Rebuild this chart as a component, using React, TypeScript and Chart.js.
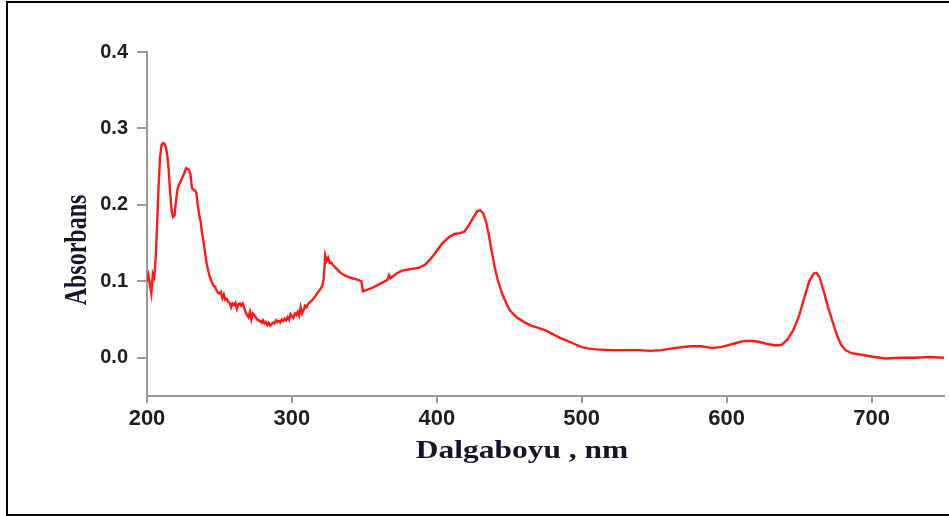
import React, { useEffect, useRef } from "react";
import { Chart, registerables } from "chart.js";

Chart.register(...registerables);

const wavelengths = [
  200, 201, 202, 203, 204, 205, 206, 207, 208, 209, 210, 211, 212, 213, 214, 215, 216, 217, 218, 219,
  220, 221, 222, 223, 224, 225, 226, 227, 228, 229, 230, 231, 232, 233, 234, 235, 236, 237, 238, 239,
  240, 241, 242, 243, 244, 245, 246, 247, 248, 249, 250, 251, 252, 253, 254, 255, 256, 257, 258, 259,
  260, 261, 262, 263, 264, 265, 266, 267, 268, 269, 270, 271, 272, 273, 274, 275, 276, 277, 278, 279,
  280, 281, 282, 283, 284, 285, 286, 287, 288, 289, 290, 291, 292, 293, 294, 295, 296, 297, 298, 299,
  300, 301, 302, 303, 304, 305, 306, 307, 308, 309, 310, 311, 312, 313, 314, 315, 316, 317, 318, 319,
  320, 321, 322, 323, 324, 325, 326, 327, 328, 330, 333, 336, 340, 344, 347, 348, 349, 352, 356, 360,
  364, 366, 367, 368, 372, 376, 382, 388, 392, 396, 400, 404, 408, 412, 416, 419, 422, 425, 428, 430,
  432, 434, 436, 438, 440, 442, 445, 448, 450, 455, 460, 465, 470, 475, 480, 485, 490, 495, 500, 505,
  510, 520, 530, 540, 547, 555, 565, 575, 582, 590, 596, 600, 606, 612, 618, 622, 628, 634, 638, 642,
  646, 650, 654, 657, 660, 662, 664, 667, 670, 673, 676, 679, 682, 686, 690, 696, 702, 710, 720, 730,
  740, 750,
];

const absorbance = [
  0.100, 0.108, 0.095, 0.084, 0.110, 0.105, 0.130, 0.175, 0.225, 0.262, 0.278, 0.281, 0.280, 0.276, 0.265, 0.245, 0.215, 0.192, 0.184, 0.186,
  0.205, 0.220, 0.226, 0.230, 0.234, 0.238, 0.243, 0.248, 0.247, 0.246, 0.240, 0.222, 0.220, 0.219, 0.216, 0.200, 0.188, 0.178, 0.163, 0.152,
  0.138, 0.125, 0.116, 0.108, 0.102, 0.098, 0.094, 0.093, 0.088, 0.085, 0.084, 0.086, 0.078, 0.083, 0.076, 0.077, 0.073, 0.072, 0.066, 0.071,
  0.069, 0.072, 0.064, 0.070, 0.071, 0.068, 0.071, 0.066, 0.060, 0.056, 0.053, 0.060, 0.050, 0.058, 0.056, 0.053, 0.050, 0.049, 0.048, 0.046,
  0.049, 0.045, 0.047, 0.043, 0.046, 0.042, 0.044, 0.046, 0.045, 0.049, 0.047, 0.048, 0.046, 0.050, 0.048, 0.051, 0.049, 0.053, 0.050, 0.057,
  0.054, 0.052, 0.058, 0.056, 0.060, 0.055, 0.066, 0.058, 0.062, 0.068, 0.066, 0.070, 0.072, 0.074, 0.075, 0.078, 0.080, 0.083, 0.086, 0.088,
  0.091, 0.094, 0.105, 0.134, 0.127, 0.131, 0.124, 0.125, 0.122, 0.118, 0.112, 0.108, 0.105, 0.103, 0.101, 0.100, 0.087, 0.089, 0.092, 0.096,
  0.100, 0.102, 0.108, 0.104, 0.110, 0.114, 0.116, 0.118, 0.122, 0.130, 0.140, 0.150, 0.157, 0.162, 0.163, 0.165, 0.173, 0.183, 0.192, 0.193,
  0.189, 0.178, 0.160, 0.138, 0.118, 0.102, 0.084, 0.071, 0.063, 0.053, 0.047, 0.042, 0.039, 0.036, 0.031, 0.026, 0.022, 0.018, 0.014, 0.012,
  0.011, 0.010, 0.010, 0.010, 0.009, 0.010, 0.013, 0.015, 0.015, 0.013, 0.014, 0.016, 0.019, 0.022, 0.022, 0.021, 0.018, 0.016, 0.017, 0.024,
  0.036, 0.055, 0.081, 0.100, 0.110, 0.111, 0.106, 0.087, 0.066, 0.048, 0.030, 0.017, 0.010, 0.006, 0.005, 0.003, 0.001, -0.001, 0.000, 0.000,
  0.001, 0.000,
];

const xTickValues = [200, 300, 400, 500, 600, 700];
const yTickValues = [0, 0.1, 0.2, 0.3, 0.4];
const xTitle = "Dalgaboyu , nm";
const yTitle = "Absorbans";

const AXIS_GRAY = "#9a9a9a";
const TITLE_COLOR = "#14142a";

const titlePlugin = {
  id: "stretchedTitles",
  afterDraw(chart: any) {
    const ctx = chart.ctx as CanvasRenderingContext2D;
    ctx.save();
    ctx.fillStyle = TITLE_COLOR;
    ctx.font = 'bold 25px "Liberation Serif", "Times New Roman", serif';
    ctx.textAlign = "center";
    ctx.textBaseline = "alphabetic";
    ctx.translate(522, 458);
    ctx.scale(1.26, 1);
    ctx.fillText(xTitle, 0, 0);
    ctx.restore();

    ctx.save();
    ctx.fillStyle = TITLE_COLOR;
    ctx.font = 'bold 24px "Liberation Serif", "Times New Roman", serif';
    ctx.textAlign = "center";
    ctx.textBaseline = "middle";
    ctx.translate(78, 250);
    ctx.scale(1.3, 1);
    ctx.rotate(-Math.PI / 2);
    ctx.fillText(yTitle, 0, 0);
    ctx.restore();
  },
};

export default function App() {
  const canvasRef = useRef<HTMLCanvasElement | null>(null);

  useEffect(() => {
    if (!canvasRef.current) return;
    const points = wavelengths.map((w, i) => ({ x: w, y: absorbance[i] }));
    const chart = new Chart(canvasRef.current, {
      type: "line",
      data: {
        datasets: [
          {
            data: points,
            borderColor: "#ff1a1a",
            borderWidth: 2.4,
            pointRadius: 0,
            tension: 0,
            fill: false,
          },
        ],
      },
      options: {
        responsive: false,
        animation: false,
        layout: { padding: { top: 52, right: 5, left: 0, bottom: 0 } },
        plugins: { legend: { display: false }, tooltip: { enabled: false } },
        scales: {
          x: {
            type: "linear",
            min: 200,
            max: 750,
            afterBuildTicks: (s: any) => {
              s.ticks = xTickValues.map((v) => ({ value: v }));
            },
            afterFit: (s: any) => {
              s.height = 120;
            },
            grid: {
              drawOnChartArea: false,
              drawTicks: true,
              tickLength: 7,
              color: AXIS_GRAY,
              lineWidth: 2,
            },
            border: { display: true, color: AXIS_GRAY, width: 2 },
            ticks: {
              font: { family: '"Liberation Sans", Arial, sans-serif', size: 22, weight: "bold" },
              color: "#1e1e1e",
              padding: 3,
              maxRotation: 0,
              autoSkip: false,
              callback: (v: any) => String(v),
            },
          },
          y: {
            type: "linear",
            min: -0.05,
            max: 0.4,
            afterBuildTicks: (s: any) => {
              s.ticks = yTickValues.map((v) => ({ value: v }));
            },
            afterFit: (s: any) => {
              s.width = 147;
            },
            grid: {
              drawOnChartArea: false,
              drawTicks: true,
              tickLength: 10,
              color: AXIS_GRAY,
              lineWidth: 2,
            },
            border: { display: true, color: AXIS_GRAY, width: 2 },
            ticks: {
              font: { family: '"Liberation Sans", Arial, sans-serif', size: 20, weight: "bold" },
              color: "#1e1e1e",
              padding: 9,
              autoSkip: false,
              callback: (v: any) => Number(v).toFixed(1),
            },
          },
        },
      },
      plugins: [titlePlugin],
    });
    return () => chart.destroy();
  }, []);

  return (
    <div style={{ position: "fixed", left: 0, top: 0, width: 949, height: 516, background: "#fff", overflow: "hidden" }}>
      <canvas ref={canvasRef} width={949} height={516} style={{ position: "absolute", left: 0, top: 0, width: 949, height: 516 }} />
      <div
        style={{
          position: "absolute",
          left: 6,
          top: 1,
          width: 1000,
          height: 515,
          boxSizing: "border-box",
          border: "2px solid #000",
          pointerEvents: "none",
        }}
      />
    </div>
  );
}
